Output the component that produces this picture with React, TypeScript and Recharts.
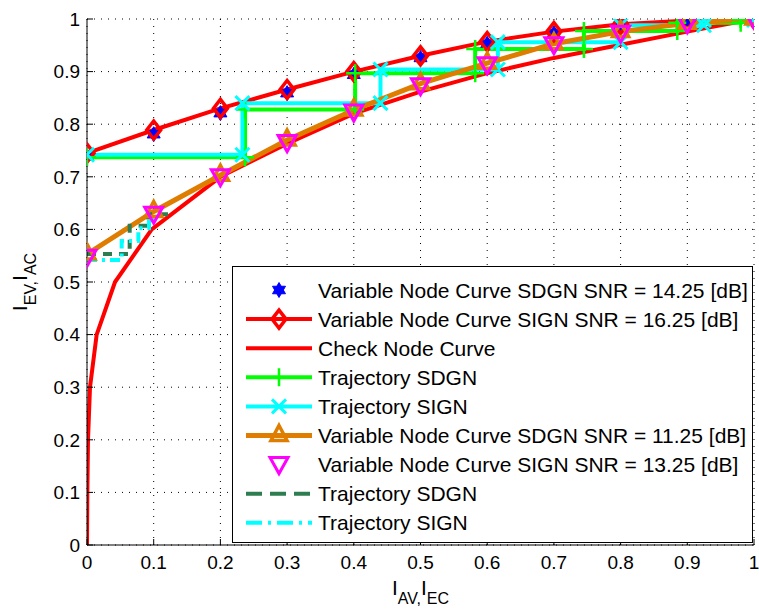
import React from 'react'
import { ComposedChart, Line, XAxis, YAxis, CartesianGrid, Legend, Label } from 'recharts'

// EXIT chart: variable node curves, check node curve and decoding trajectories
const vnX = [0, 0.1, 0.2, 0.3, 0.4, 0.5, 0.6, 0.7, 0.8, 0.9, 1]
const vnSdgn1425 = [0.739, 0.781, 0.821, 0.859, 0.894, 0.926, 0.953, 0.973, 0.988, 0.996, 1]
const vnSign1625 = [0.745, 0.789, 0.83, 0.866, 0.9, 0.93, 0.957, 0.976, 0.99, 0.997, 1]
const vnSdgn1125 = [0.553, 0.634, 0.703, 0.77, 0.827, 0.877, 0.916, 0.953, 0.976, 0.992, 1]
const vnSign1325 = [0.547, 0.629, 0.7, 0.765, 0.823, 0.873, 0.913, 0.951, 0.973, 0.991, 1]

const cnX = [0, 0.0005, 0.0015, 0.0045, 0.0145, 0.042, 0.097, 0.2, 0.3, 0.4, 0.5, 0.6, 0.7, 0.8, 0.9, 1]
const cnY = [0, 0.1, 0.2, 0.3, 0.4, 0.5, 0.6, 0.7, 0.763, 0.82, 0.862, 0.897, 0.926, 0.951, 0.976, 1]

const trSdgnX = [0, 0.237, 0.237, 0.402, 0.402, 0.582, 0.582, 0.745, 0.745, 0.885, 0.885, 0.98, 0.98]
const trSdgnY = [0.737, 0.737, 0.828, 0.828, 0.897, 0.897, 0.943, 0.943, 0.977, 0.977, 0.993, 0.993, 1]
const trSignX = [0, 0.233, 0.233, 0.44, 0.44, 0.616, 0.616, 0.8, 0.8, 0.925, 0.925, 1]
const trSignY = [0.742, 0.742, 0.84, 0.84, 0.904, 0.904, 0.956, 0.956, 0.988, 0.988, 0.998, 0.998]

const trLowSdgnX = [0, 0.064, 0.064, 0.092, 0.092, 0.125]
const trLowSdgnY = [0.553, 0.553, 0.607, 0.607, 0.629, 0.629]
const trLowSignX = [0, 0.052, 0.052, 0.077, 0.077, 0.093, 0.093, 0.11]
const trLowSignY = [0.542, 0.542, 0.578, 0.578, 0.602, 0.602, 0.62, 0.62]

const ticks = [0, 0.1, 0.2, 0.3, 0.4, 0.5, 0.6, 0.7, 0.8, 0.9, 1]

const pts = (xs: number[], ys: number[]) => xs.map((x, i) => ({ x, y: ys[i] }))

const FONT = '"Liberation Sans", Arial, Helvetica, sans-serif'
const ORANGE = '#de7d00'
const DKGREEN = '#2e7d50'

const Hexagram = ({ cx, cy }: any) => {
  const r = 7.5
  const tri = (off: number) =>
    [0, 1, 2].map(k => {
      const a = ((off + k * 120) * Math.PI) / 180
      return `${cx + r * Math.cos(a)},${cy + r * Math.sin(a)}`
    }).join(' ')
  return (
    <g>
      <polygon points={tri(-90)} fill="#0000ff" stroke="#0000ff" strokeWidth={1} />
      <polygon points={tri(90)} fill="#0000ff" stroke="#0000ff" strokeWidth={1} />
    </g>
  )
}
const Diamond = ({ cx, cy }: any) => (
  <polygon points={`${cx},${cy - 9} ${cx + 7},${cy} ${cx},${cy + 9} ${cx - 7},${cy}`} fill="none" stroke="#ff0000" strokeWidth={3.5} />
)
const TriUp = ({ cx, cy }: any) => (
  <polygon points={`${cx},${cy - 10} ${cx + 8},${cy + 5} ${cx - 8},${cy + 5}`} fill="none" stroke={ORANGE} strokeWidth={3.5} />
)
const TriDown = ({ cx, cy }: any) => (
  <polygon points={`${cx - 9},${cy - 7} ${cx + 9},${cy - 7} ${cx},${cy + 9}`} fill="none" stroke="#ff00ff" strokeWidth={3} />
)
const Plus = ({ cx, cy }: any) => (
  <path d={`M${cx - 9},${cy}H${cx + 9}M${cx},${cy - 9}V${cy + 9}`} stroke="#00ff00" strokeWidth={2.5} />
)
const Cross = ({ cx, cy }: any) => (
  <path d={`M${cx - 7},${cy - 7}L${cx + 7},${cy + 7}M${cx - 7},${cy + 7}L${cx + 7},${cy - 7}`} stroke="#00ffff" strokeWidth={3} />
)

const dotOf = (M: any, tag: string) => (p: any) => <M key={`${tag}-${p.index}`} cx={p.cx} cy={p.cy} />

const legendItems = [
  { name: 'Variable Node Curve SDGN SNR = 14.25 [dB]', color: '#0000ff', line: false, M: Hexagram },
  { name: 'Variable Node Curve SIGN SNR = 16.25 [dB]', color: '#ff0000', line: true, M: Diamond },
  { name: 'Check Node Curve', color: '#ff0000', line: true },
  { name: 'Trajectory SDGN', color: '#00ff00', line: true, M: Plus },
  { name: 'Trajectory SIGN', color: '#00ffff', line: true, M: Cross },
  { name: 'Variable Node Curve SDGN SNR = 11.25 [dB]', color: ORANGE, line: true, M: TriUp, w: 5 },
  { name: 'Variable Node Curve SIGN SNR = 13.25 [dB]', color: '#ff00ff', line: false, M: TriDown },
  { name: 'Trajectory SDGN', color: DKGREEN, line: true, dash: '16 8' },
  { name: 'Trajectory SIGN', color: '#00ffff', line: true, dash: '16 6 3 6' },
]

const LegendBox = () => (
  <div style={{ width: 521, height: 277, border: '1px solid #000', background: '#fff', boxSizing: 'border-box' }}>
    <svg width={519} height={275} style={{ display: 'block' }}>
      {legendItems.map((it: any, i) => {
        const cy = 23 + i * 29.1
        return (
          <g key={i}>
            {it.line && (
              <line x1={13} x2={79} y1={cy} y2={cy} stroke={it.color} strokeWidth={it.w || 4} strokeDasharray={it.dash} />
            )}
            {it.M && <it.M cx={46} cy={cy} />}
            <text x={85} y={cy + 7.5} fontSize={21} fontFamily={FONT} fill="#000">{it.name}</text>
          </g>
        )
      })}
    </svg>
  </div>
)

const XLabel = () => (
  <text x={420.5} y={595} textAnchor="middle" fontFamily={FONT} fontSize={21} fill="#000">
    <tspan>I</tspan>
    <tspan dy={9} fontSize={16}>AV</tspan>
    <tspan fontSize={16}>,</tspan>
    <tspan dy={-9}>I</tspan>
    <tspan dy={9} fontSize={16}>EC</tspan>
  </text>
)
const YLabel = () => (
  <text x={0} y={0} transform="translate(27,282) rotate(-90)" textAnchor="middle" fontFamily={FONT} fontSize={21} fill="#000">
    <tspan>I</tspan>
    <tspan dy={9} fontSize={16}>EV</tspan>
    <tspan fontSize={16}>,</tspan>
    <tspan dy={-9}>I</tspan>
    <tspan dy={9} fontSize={16}>AC</tspan>
  </text>
)

const fmt = (v: number) => (v === 0 ? '0' : v === 1 ? '1' : v.toFixed(1))
const tickStyle = { fontSize: 19, fontFamily: FONT, fill: '#000' }

export default function App() {
  return (
    <div style={{ position: 'absolute', left: 0, top: 0, background: '#fff' }}>
      <ComposedChart width={759} height={609} margin={{ top: 19, right: 5, bottom: 0, left: 0 }}>
        <CartesianGrid stroke="#000" strokeDasharray="1 6" />
        <XAxis
          dataKey="x"
          type="number"
          domain={[0, 1]}
          ticks={ticks}
          tickFormatter={fmt}
          height={64}
          stroke="#000"
          tick={tickStyle}
          tickSize={-6}
          tickMargin={17}
          allowDataOverflow
        >
          <Label content={<XLabel />} />
        </XAxis>
        <XAxis xAxisId="top" orientation="top" type="number" domain={[0, 1]} ticks={ticks} tickFormatter={() => ''} height={0} stroke="#000" tickSize={-6} />
        <YAxis
          type="number"
          domain={[0, 1]}
          ticks={ticks}
          tickFormatter={fmt}
          width={87}
          stroke="#000"
          tick={tickStyle}
          tickSize={-6}
          tickMargin={13}
          allowDataOverflow
        >
          <Label content={<YLabel />} />
        </YAxis>
        <YAxis yAxisId="right" orientation="right" type="number" domain={[0, 1]} ticks={ticks} tickFormatter={() => ''} width={0} stroke="#000" tickSize={-6} />

        <Line data={pts(vnX, vnSdgn1425)} dataKey="y" name="Variable Node Curve SDGN SNR = 14.25 [dB]" stroke="none" dot={dotOf(Hexagram, 'hx')} isAnimationActive={false} />
        <Line data={pts(vnX, vnSign1625)} dataKey="y" name="Variable Node Curve SIGN SNR = 16.25 [dB]" stroke="#ff0000" strokeWidth={4} dot={dotOf(Diamond, 'dm')} isAnimationActive={false} />
        <Line data={pts(cnX, cnY)} dataKey="y" name="Check Node Curve" stroke="#ff0000" strokeWidth={4} dot={false} isAnimationActive={false} />
        <Line data={pts(trSdgnX, trSdgnY)} dataKey="y" name="Trajectory SDGN" stroke="#00ff00" strokeWidth={4} dot={dotOf(Plus, 'pl')} isAnimationActive={false} />
        <Line data={pts(trSignX, trSignY)} dataKey="y" name="Trajectory SIGN" stroke="#00ffff" strokeWidth={4} dot={dotOf(Cross, 'cr')} isAnimationActive={false} />
        <Line data={pts(vnX, vnSdgn1125)} dataKey="y" name="Variable Node Curve SDGN SNR = 11.25 [dB]" stroke={ORANGE} strokeWidth={5} dot={dotOf(TriUp, 'tu')} isAnimationActive={false} />
        <Line data={pts(vnX, vnSign1325)} dataKey="y" name="Variable Node Curve SIGN SNR = 13.25 [dB]" stroke="none" dot={dotOf(TriDown, 'td')} isAnimationActive={false} />
        <Line data={pts(trLowSdgnX, trLowSdgnY)} dataKey="y" name="Trajectory SDGN (low)" stroke={DKGREEN} strokeWidth={4} strokeDasharray="9 7" dot={false} isAnimationActive={false} />
        <Line data={pts(trLowSignX, trLowSignY)} dataKey="y" name="Trajectory SIGN (low)" stroke="#00ffff" strokeWidth={4} strokeDasharray="10 5 3 5" dot={false} isAnimationActive={false} />

        <Legend
          layout="vertical"
          align="center"
          verticalAlign="middle"
          content={<LegendBox />}
          wrapperStyle={{ position: 'absolute', left: 232, top: 266, width: 521, height: 277 }}
        />
      </ComposedChart>
    </div>
  )
}
